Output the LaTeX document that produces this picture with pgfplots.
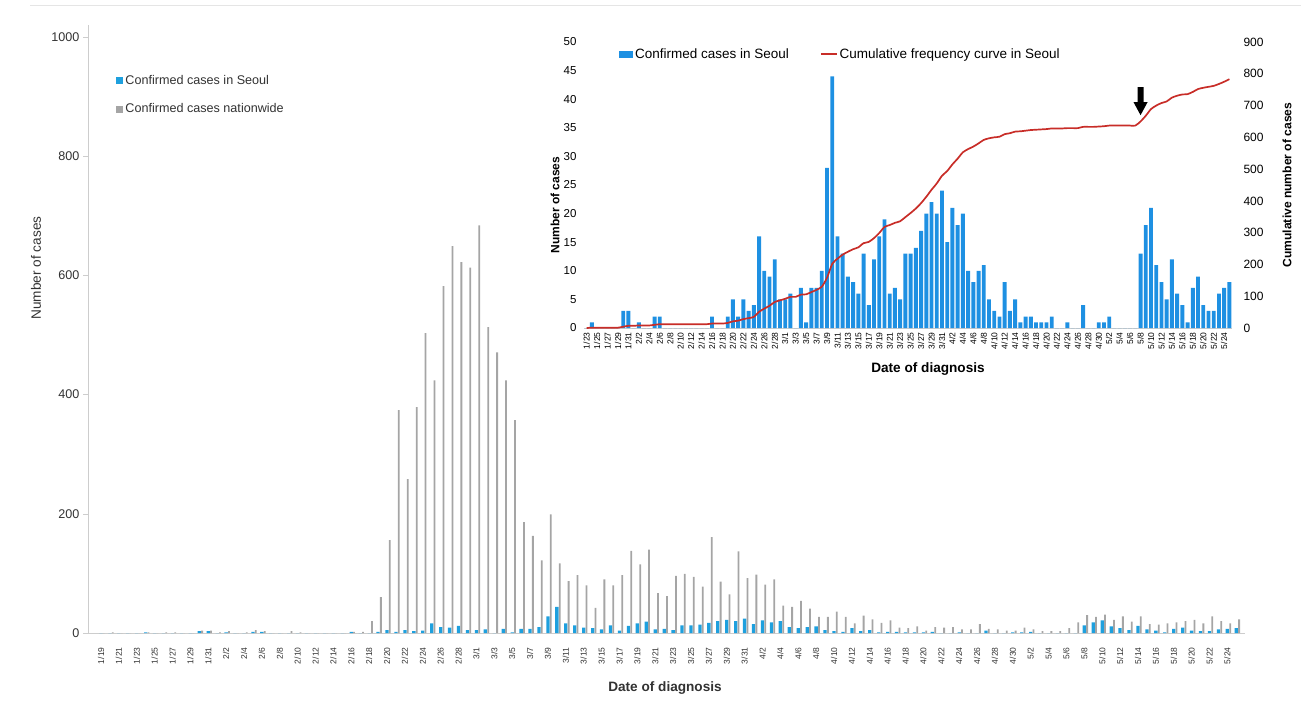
\documentclass[border=0pt]{standalone}
\usepackage{pgfplots}
\pgfplotsset{compat=1.18}
\usepackage{pgfplotstable}
\usepackage{fontspec}
\setmainfont{Liberation Sans}

\definecolor{seoulblue}{RGB}{30,160,222}
\definecolor{insetblue}{RGB}{30,144,226}
\definecolor{natgray}{RGB}{165,165,165}
\definecolor{cumred}{RGB}{200,45,40}
\definecolor{axisgray}{RGB}{205,205,205}
\definecolor{txt}{RGB}{50,50,50}

% n = days since 1/19; seoul / nationwide daily cases; cum = Seoul cumulative (from 1/23)
\pgfplotstableread{
n seoul nation cum
0 0 0 0
1 0 1 0
2 0 0 0
3 0 0 0
4 0 0 0
5 1 1 1
6 0 0 1
7 0 1 1
8 0 1 1
9 0 0 1
10 0 0 1
11 3 4 4
12 3 4 7
13 0 1 7
14 1 3 8
15 0 0 8
16 0 1 8
17 2 5 10
18 2 3 12
19 0 0 12
20 0 0 12
21 0 3 12
22 0 1 12
23 0 0 12
24 0 0 12
25 0 0 12
26 0 0 12
27 0 0 12
28 2 2 14
29 0 2 14
30 0 20 14
31 2 60 16
32 5 156 21
33 2 374 23
34 5 258 28
35 3 379 31
36 4 503 35
37 16 424 51
38 10 582 61
39 9 649 70
40 12 622 82
41 5 613 87
42 5 684 92
43 6 513 98
44 0 471 98
45 7 424 105
46 1 357 106
47 7 186 113
48 7 163 120
49 10 122 130
50 28 199 158
51 44 117 202
52 16 87 218
53 13 97 231
54 9 80 240
55 8 42 248
56 6 90 254
57 13 80 267
58 4 97 271
59 12 138 283
60 16 115 299
61 19 140 318
62 6 67 324
63 7 62 331
64 5 96 336
65 13 99 349
66 13 94 362
67 14 78 376
68 17 161 393
69 20 86 413
70 22 65 435
71 20 137 455
72 24 92 479
73 15 98 494
74 21 81 515
75 18 90 533
76 20 46 553
77 10 44 563
78 8 54 571
79 10 41 581
80 11 27 592
81 5 27 597
82 3 36 600
83 2 27 602
84 8 16 610
85 3 29 613
86 5 23 618
87 1 17 619
88 2 21 621
89 2 9 623
90 1 8 624
91 1 11 625
92 1 4 626
93 2 10 628
94 0 9 628
95 0 10 628
96 1 6 629
97 0 6 629
98 0 15 629
99 4 7 633
100 0 6 633
101 0 4 633
102 1 4 634
103 1 9 635
104 2 6 637
105 0 3 637
106 0 3 637
107 0 3 637
108 0 8 637
109 0 18 637
110 13 30 650
111 18 27 668
112 21 31 689
113 11 22 700
114 8 28 708
115 5 19 713
116 12 28 725
117 6 15 731
118 4 14 735
119 1 16 736
120 7 18 743
121 9 20 752
122 4 22 756
123 3 16 759
124 3 28 762
125 6 20 768
126 7 16 775
127 8 23 783
}\cases

\pgfplotsset{
  /pgf/number format/assume math mode=true,
  /pgf/number format/1000 sep={},
  every axis/.append style={scale only axis, anchor=south west},
}

\begin{document}
\begin{tikzpicture}
\path[use as bounding box] (0pt,0pt) rectangle (1301pt,-713pt);
\draw[black!10, line width=0.8pt] (30pt,-5pt) -- (1301pt,-5pt);

% ---- main chart ----
\begin{axis}[
  at={(88pt,-633pt)}, width=1157pt, height=608pt,
  xmin=-1.45, xmax=127.97, ymin=0, ymax=1020,
  axis x line*=bottom, axis y line*=left,
  axis line style={axisgray, -},
  ytick={0,200,...,1000},
  ytick style={axisgray}, tick align=outside, major tick length=5pt,
  yticklabel style={font=\fontsize{12.6}{13}\selectfont, text=txt},
  xtick={0,2,...,126}, xtick style={draw=none},
  xticklabels={1/19,1/21,1/23,1/25,1/27,1/29,1/31,2/2,2/4,2/6,2/8,2/10,2/12,2/14,2/16,2/18,2/20,2/22,2/24,2/26,2/28,3/1,3/3,3/5,3/7,3/9,3/11,3/13,3/15,3/17,3/19,3/21,3/23,3/25,3/27,3/29,3/31,4/2,4/4,4/6,4/8,4/10,4/12,4/14,4/16,4/18,4/20,4/22,4/24,4/26,4/28,4/30,5/2,5/4,5/6,5/8,5/10,5/12,5/14,5/16,5/18,5/20,5/22,5/24},
  xticklabel style={rotate=90, anchor=east, font=\fontsize{8.5}{9}\selectfont, text=txt},
  xticklabel shift=6pt,
  legend style={at={(rel axis cs:0.024,0.921)}, anchor=north west, draw=none, fill=none,
    font=\fontsize{12.6}{14}\selectfont, text=txt, row sep=14pt, inner sep=0pt},
  legend cell align=left,
]
\addplot[ybar, fill=seoulblue, draw=none, bar width=3.3pt, bar shift=0pt,
  legend image code/.code={\fill[seoulblue] (0pt,-3.5pt) rectangle (7.5pt,3.5pt);}]
  table[x=n, y=seoul]{\cases};
\addlegendentry{Confirmed cases in Seoul}
\addplot[ybar, fill=natgray, draw=none, bar width=1.8pt, bar shift=2.8pt,
  legend image code/.code={\fill[natgray] (0pt,-3.5pt) rectangle (7.5pt,3.5pt);}]
  table[x=n, y=nation]{\cases};
\addlegendentry{Confirmed cases nationwide}
\end{axis}

\node[rotate=90, font=\fontsize{13.6}{15}\selectfont, text=txt] at (36pt,-268pt) {Number of cases};
\node[font=\bfseries\fontsize{13.6}{15}\selectfont, text=txt] at (665pt,-688pt) {Date of diagnosis};

% ---- inset: Seoul ----
\begin{axis}[
  at={(584pt,-328pt)}, width=648pt, height=286pt,
  xmin=3.5, xmax=127.5, ymin=0, ymax=50,
  axis x line*=bottom, axis y line*=left,
  x axis line style={axisgray, -}, y axis line style={draw=none},
  ytick={0,5,...,50}, ytick style={draw=none},
  yticklabel style={font=\fontsize{11.5}{12}\selectfont, xshift=-4pt},
  xtick={4,6,...,126}, xtick style={draw=none},
  xticklabels={1/23,1/25,1/27,1/29,1/31,2/2,2/4,2/6,2/8,2/10,2/12,2/14,2/16,2/18,2/20,2/22,2/24,2/26,2/28,3/1,3/3,3/5,3/7,3/9,3/11,3/13,3/15,3/17,3/19,3/21,3/23,3/25,3/27,3/29,3/31,4/2,4/4,4/6,4/8,4/10,4/12,4/14,4/16,4/18,4/20,4/22,4/24,4/26,4/28,4/30,5/2,5/4,5/6,5/8,5/10,5/12,5/14,5/16,5/18,5/20,5/22,5/24},
  xticklabel style={rotate=90, anchor=east, font=\fontsize{8.5}{9}\selectfont},
  xticklabel shift=1pt,
  legend style={at={(rel axis cs:0.054,0.958)}, anchor=west, draw=none, fill=none,
    font=\fontsize{13.5}{14}\selectfont, inner sep=0pt,
    /tikz/every even column/.append style={column sep=29pt}},
  legend columns=2,
]
\addplot[ybar, fill=insetblue, draw=none, bar width=3.9pt, bar shift=0pt,
  legend image code/.code={\fill[insetblue] (0pt,-3.5pt) rectangle (14pt,3.5pt);}]
  table[x=n, y=seoul]{\cases};
\addlegendentry{Confirmed cases in Seoul}
\addlegendimage{legend image code/.code={\draw[cumred, line width=1.7pt] (0pt,0pt) -- (16pt,0pt);}}
\addlegendentry{Cumulative frequency curve in Seoul}
\fill[black] (axis cs:110,42.1) ++(-3pt,0pt) -- ++(6pt,0pt) -- ++(0pt,-15pt) -- ++(4pt,0pt)
  -- ++(-7pt,-13pt) -- ++(-7pt,13pt) -- ++(4pt,0pt) -- cycle;
\end{axis}

\begin{axis}[
  at={(584pt,-328pt)}, width=648pt, height=286pt,
  xmin=3.5, xmax=127.5, ymin=0, ymax=900,
  axis x line=none, axis y line*=right, y axis line style={draw=none},
  ytick={0,100,...,900}, ytick style={draw=none},
  yticklabel style={font=\fontsize{12}{13}\selectfont, xshift=8pt},
]
\addplot[cumred, line width=1.7pt, smooth, tension=0.4, restrict x to domain=4:127]
  table[x=n, y=cum]{\cases};
\end{axis}

\node[rotate=90, font=\bfseries\fontsize{12}{13}\selectfont] at (555pt,-205pt) {Number of cases};
\node[font=\bfseries\fontsize{13.6}{15}\selectfont] at (928pt,-369pt) {Date of diagnosis};
\node[rotate=90, font=\bfseries\fontsize{12.1}{13}\selectfont] at (1287pt,-185pt) {Cumulative number of cases};
\end{tikzpicture}
\end{document}
